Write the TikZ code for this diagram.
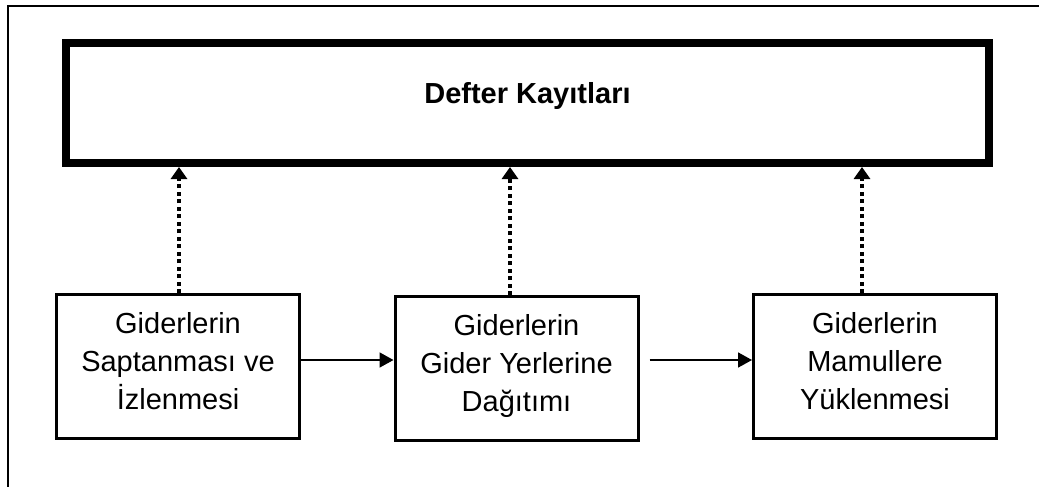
\documentclass[tikz,border=0pt]{standalone}
\usepackage{fontspec}
\setmainfont{Liberation Sans}
\usetikzlibrary{arrows.meta}
\begin{document}
\begin{tikzpicture}[x=1pt,y=-1pt,
  topbox/.style={draw,line width=8pt,minimum width=923pt,minimum height=120pt,inner sep=0pt,
    font=\fontsize{29}{38}\selectfont\bfseries,text height=21pt,text depth=21pt},
  stagebox/.style={draw,line width=3pt,minimum width=243pt,minimum height=144pt,inner sep=0pt,
    align=center,font=\fontsize{29}{38}\selectfont},
  flow/.style={line width=1.8pt,-{Triangle[length=14pt,width=15pt]}},
  record/.style={line width=4.5pt,dash pattern=on 4pt off 3.5pt,-{Triangle[length=12pt,width=16pt]}}]
\useasboundingbox (0,0) rectangle (1039,487);
\draw[line width=1.5pt] (8,487) -- (8,6) -- (1039,6);
\node[topbox] (top) at (527.5,103) {Defter Kayıtları};
\node[stagebox] (b1) at (178,366.5) {Giderlerin\\Saptanması ve\\İzlenmesi\rule[-12pt]{0pt}{0pt}};
\node[stagebox] (b2) at (516.5,368.5) {Giderlerin\\Gider Yerlerine\\Dağıtımı\rule[-12pt]{0pt}{0pt}};
\node[stagebox] (b3) at (875,366.5) {Giderlerin\\Mamullere\\Yüklenmesi\rule[-12pt]{0pt}{0pt}};
\coordinate (c1) at (179,0);
\coordinate (c2) at (510,0);
\coordinate (c3) at (862,0);
\coordinate (h) at (0,360);
\draw[flow] (b1.east |- h) -- (b2.west |- h);
\draw[flow,shorten <=10pt] (b2.east |- h) -- (b3.west |- h);
\draw[record] (b1.north -| c1) -- (top.south -| c1);
\draw[record] (b2.north -| c2) -- (top.south -| c2);
\draw[record] (b3.north -| c3) -- (top.south -| c3);
\end{tikzpicture}
\end{document}
